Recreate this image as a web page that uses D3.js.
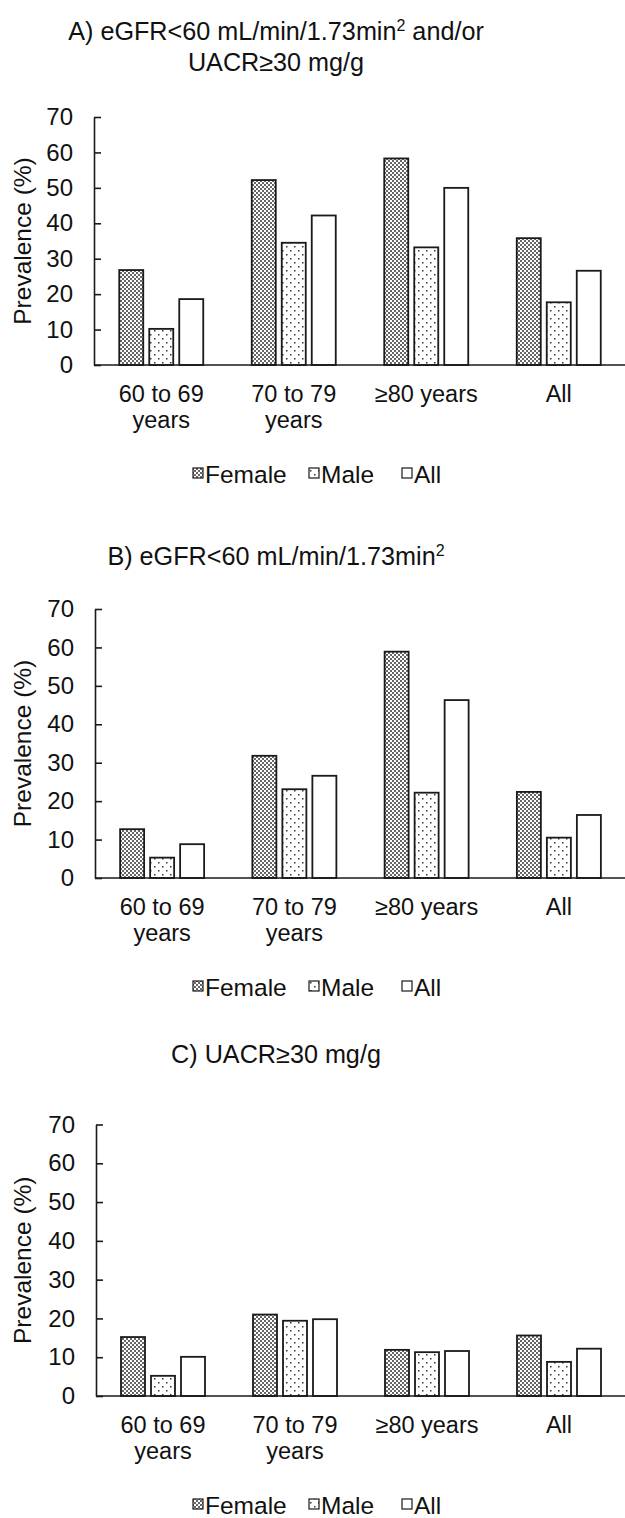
<!DOCTYPE html>
<html>
<head>
<meta charset="utf-8">
<script src="https://cdn.jsdelivr.net/npm/d3@7"></script>
<style>
  body { margin: 0; background: #fff; }
  svg { display: block; font-family: "Liberation Sans", Arial, sans-serif; }
</style>
</head>
<body>
<svg id="chart" width="625" height="1518"></svg>
<script>
'use strict';

var categories = ['60 to 69', '70 to 79', '≥80 years', 'All'];
var categoryLine2 = ['years', 'years', '', ''];
var seriesNames = ['Female', 'Male', 'All'];
var yTicks = [0, 10, 20, 30, 40, 50, 60, 70];

// A) eGFR<60 and/or UACR>=30
var aFemale = [26.8, 52.2, 58.3, 35.8];
var aMale = [10.2, 34.5, 33.2, 17.7];
var aAll = [18.6, 42.2, 50.0, 26.6];

// B) eGFR<60
var bFemale = [12.7, 31.8, 58.9, 22.4];
var bMale = [5.3, 23.1, 22.2, 10.5];
var bAll = [8.8, 26.6, 46.3, 16.4];

// C) UACR>=30
var cFemale = [15.2, 21.0, 11.9, 15.6];
var cMale = [5.2, 19.4, 11.3, 8.8];
var cAll = [10.1, 19.8, 11.6, 12.2];

var svg = d3.select('#chart');
var defs = svg.append('defs');

// female: fine checker, male: sparse staggered dots, all: plain white
var pf = defs.append('pattern').attr('id', 'pat-female')
  .attr('patternUnits', 'userSpaceOnUse').attr('width', 4).attr('height', 4);
pf.append('rect').attr('width', 4).attr('height', 4).attr('fill', '#fff');
pf.append('rect').attr('x', 0).attr('y', 0).attr('width', 2).attr('height', 2).attr('fill', '#666');
pf.append('rect').attr('x', 2).attr('y', 2).attr('width', 2).attr('height', 2).attr('fill', '#666');

var pm = defs.append('pattern').attr('id', 'pat-male')
  .attr('patternUnits', 'userSpaceOnUse').attr('width', 8).attr('height', 8);
pm.append('rect').attr('width', 8).attr('height', 8).attr('fill', '#fff');
pm.append('rect').attr('x', 2).attr('y', 2).attr('width', 1.5).attr('height', 1.5).attr('fill', '#333');
pm.append('rect').attr('x', 6).attr('y', 6).attr('width', 1.5).attr('height', 1.5).attr('fill', '#333');

var fills = ['url(#pat-female)', 'url(#pat-male)', '#fff'];

var panels = [
  { title: ['A) eGFR<60 mL/min/1.73min|2| and/or', 'UACR≥30 mg/g'], titleY: 40,
    left: 94, top: 117, bottom: 365, values: [aFemale, aMale, aAll] },
  { title: ['B) eGFR<60 mL/min/1.73min|2|'], titleY: 565,
    left: 95, top: 609, bottom: 878, values: [bFemale, bMale, bAll] },
  { title: ['C) UACR≥30 mg/g'], titleY: 1063,
    left: 96, top: 1124.5, bottom: 1396, values: [cFemale, cMale, cAll] }
];

function drawTitle(g, lines, y) {
  lines.forEach(function(line, i) {
    var parts = line.split('|');
    var t = g.append('text')
      .attr('x', 276).attr('y', y + i * 31)
      .attr('text-anchor', 'middle')
      .attr('font-size', 25.2).attr('fill', '#111');
    t.append('tspan').text(parts[0]);
    if (parts.length > 1) {
      t.append('tspan').attr('dy', -9).attr('font-size', 16).text(parts[1]);
      t.append('tspan').attr('dy', 9).text(parts[2]);
    }
  });
}

panels.forEach(function(p) {
  var g = svg.append('g');
  drawTitle(g, p.title, p.titleY);

  var right = 625;
  var x = d3.scaleBand().domain(categories).range([p.left + 1, right]).padding(0);
  var xs = d3.scaleBand().domain(seriesNames).range([-42, 42]).paddingInner(0.2).paddingOuter(0);
  var y = d3.scaleLinear().domain([0, 70]).range([p.bottom, p.top]);

  // bars
  p.values.forEach(function(vals, si) {
    g.selectAll(null)
      .data(vals)
      .enter().append('rect')
      .attr('x', function(d, i) { return x(categories[i]) + x.bandwidth() / 2 + xs(seriesNames[si]); })
      .attr('y', function(d) { return y(d); })
      .attr('width', xs.bandwidth())
      .attr('height', function(d) { return y(0) - y(d); })
      .attr('fill', fills[si])
      .attr('stroke', '#1a1a1a')
      .attr('stroke-width', 1.8);
  });

  // y axis
  var yAxis = d3.axisLeft(y).tickValues(yTicks).tickSizeInner(-7).tickSizeOuter(0).tickPadding(21);
  var ya = g.append('g').attr('transform', 'translate(' + p.left + ',0)').call(yAxis);
  ya.select('.domain').attr('stroke', '#1a1a1a').attr('stroke-width', 1.6);
  ya.selectAll('.tick line').attr('stroke', '#1a1a1a').attr('stroke-width', 1.6);
  ya.selectAll('.tick text').attr('font-size', 24).attr('fill', '#111')
    .attr('font-family', '"Liberation Sans", Arial, sans-serif');

  // x axis line
  var xAxis = d3.axisBottom(x).tickSize(0).tickFormat('');
  var xa = g.append('g').attr('transform', 'translate(0,' + p.bottom + ')').call(xAxis);
  xa.select('.domain').attr('stroke', '#1a1a1a').attr('stroke-width', 1.6)
    .attr('d', 'M' + p.left + ',0H' + right);

  // category labels
  categories.forEach(function(c, i) {
    var cx = x(c) + x.bandwidth() / 2;
    g.append('text').attr('x', cx).attr('y', p.bottom + 37)
      .attr('text-anchor', 'middle').attr('font-size', 23.5).attr('fill', '#111').text(c);
    if (categoryLine2[i]) {
      g.append('text').attr('x', cx).attr('y', p.bottom + 63)
        .attr('text-anchor', 'middle').attr('font-size', 23.5).attr('fill', '#111').text(categoryLine2[i]);
    }
  });

  // y label
  g.append('text')
    .attr('transform', 'translate(31,' + ((p.top + p.bottom) / 2) + ') rotate(-90)')
    .attr('text-anchor', 'middle').attr('font-size', 24.5).attr('fill', '#111')
    .text('Prevalence (%)');

  // legend
  var legX = [193, 309, 402];
  var ly = p.bottom + 118;
  seriesNames.forEach(function(s, i) {
    g.append('rect').attr('x', legX[i]).attr('y', ly - 15).attr('width', 10).attr('height', 10)
      .attr('fill', fills[i]).attr('stroke', '#1a1a1a').attr('stroke-width', 1.2);
    g.append('text').attr('x', legX[i] + 12).attr('y', ly)
      .attr('font-size', 24.5).attr('fill', '#111').text(s);
  });
});
</script>
</body>
</html>
